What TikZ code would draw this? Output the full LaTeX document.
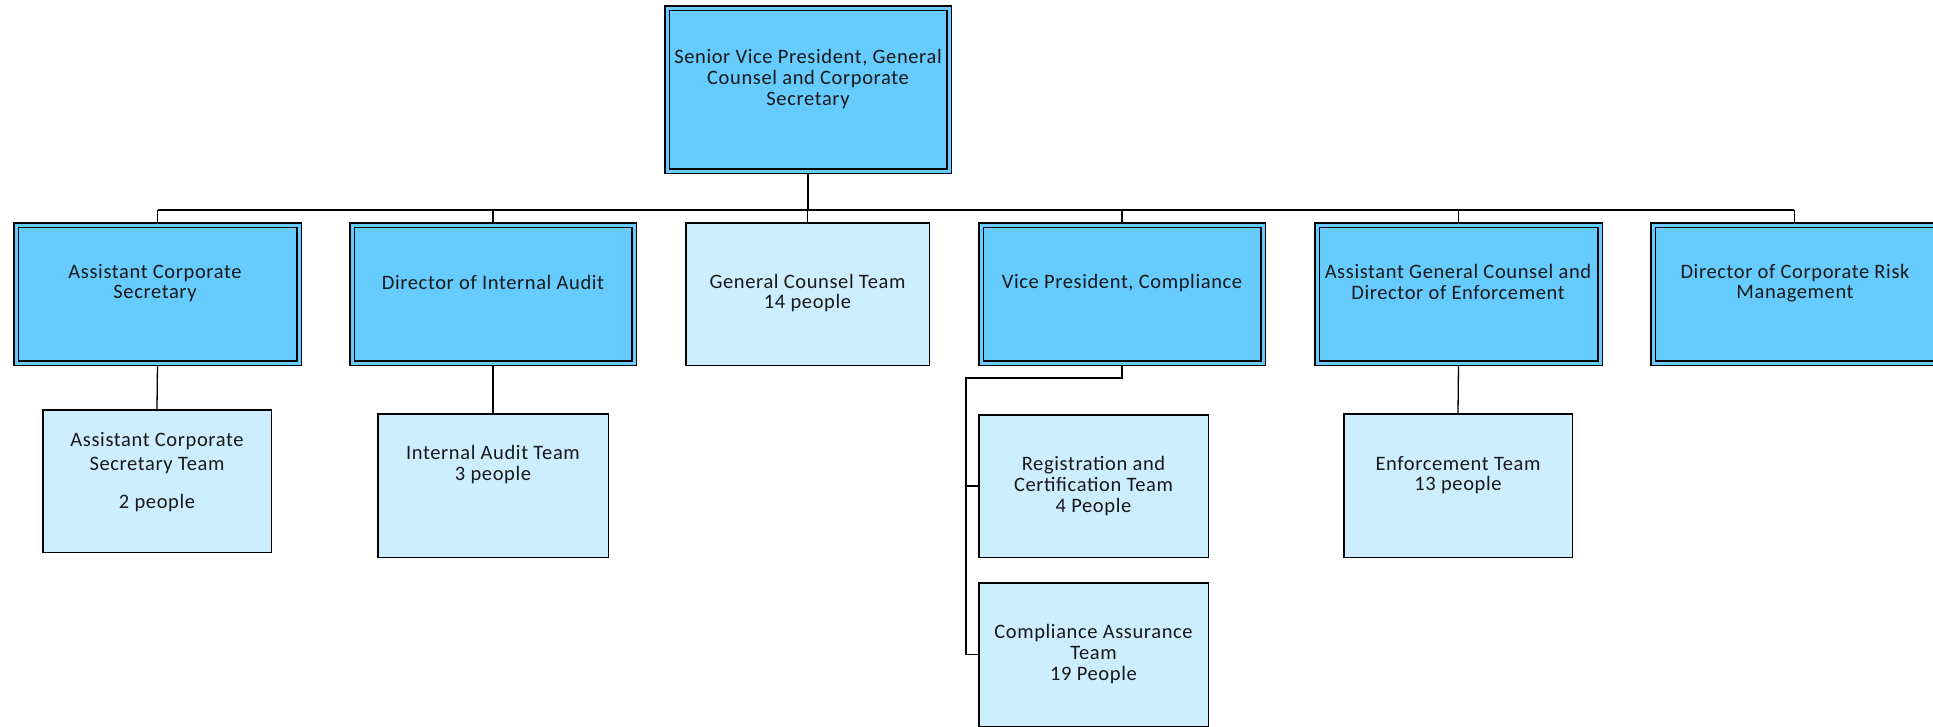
\documentclass[tikz,border=0pt]{standalone}
\usepackage{fontspec}
\setmainfont[LetterSpace=3]{Carlito}
\usetikzlibrary{backgrounds}
\definecolor{darkfill}{HTML}{66CCFF}
\definecolor{lightfill}{HTML}{CCEEFF}
\tikzset{
  mgrbox/.style={draw=black, line width=1.5pt, double=darkfill, double distance=3pt, fill=darkfill, inner sep=0pt},
  teambox/.style={draw=black, line width=1.5pt, fill=lightfill, inner sep=0pt},
  lbl/.style={align=center, inner sep=0pt, font=\fontsize{20.5}{20.7}\selectfont, text=black!90},
  conn/.style={draw=black, line width=1.3pt}
}
\begin{document}
\begin{tikzpicture}[x=1pt,y=-1pt]
\useasboundingbox (0,0) rectangle (1933,726);
\begin{scope}
\clip (0,0) rectangle (1933,726);
% manager boxes
\node[mgrbox, minimum width=282pt, minimum height=163pt] (svp) at (808,89.5) {};
\node[mgrbox, minimum width=283pt, minimum height=138pt] (acs) at (157.5,294) {};
\node[mgrbox, minimum width=282pt, minimum height=138pt] (dia) at (493,294) {};
\node[mgrbox, minimum width=282pt, minimum height=138pt] (vpc) at (1122,294) {};
\node[mgrbox, minimum width=283pt, minimum height=138pt] (agc) at (1458.5,294) {};
\node[mgrbox, minimum width=283pt, minimum height=138pt] (dcrm) at (1794.5,294) {};
% team boxes
\node[teambox, minimum width=243.5pt, minimum height=142.5pt] (gct) at (807.5,294) {};
\node[teambox, minimum width=228.5pt, minimum height=142.5pt] (acst) at (157,481) {};
\node[teambox, minimum width=230.5pt, minimum height=143.5pt] (iat) at (493,485.5) {};
\node[teambox, minimum width=229.5pt, minimum height=142.5pt] (rct) at (1093.5,486) {};
\node[teambox, minimum width=229.5pt, minimum height=143.5pt] (cat) at (1093.5,654.5) {};
\node[teambox, minimum width=228.5pt, minimum height=143.5pt] (et) at (1458,485.5) {};
% labels
\node[lbl] (tsvp) at (808,79) {Senior Vice President, General\\Counsel and Corporate\\Secretary};
\node[lbl] (tacs) at (155,283) {Assistant Corporate\\Secretary};
\node[lbl] (tdia) at (493,282) {Director of Internal Audit};
\node[lbl] (tgct) at (807.5,293) {General Counsel Team\\14 people};
\node[lbl] (tvpc) at (1122,283) {Vice President, Compliance};
\node[lbl] (tagc) at (1458,282) {Assistant General Counsel and\\Director of Enforcement};
\node[lbl] (tdcrm) at (1795,283) {Director of Corporate Risk\\Management};
\node[lbl, font=\fontsize{20.5}{24}\selectfont] (tacst) at (157,472) {Assistant Corporate\\Secretary Team\\[14pt]2 people};
\node[lbl] (tiat) at (493,464.5) {Internal Audit Team\\3 people};
\node[lbl] (trct) at (1093.5,486) {Registration and\\Certification Team\\4 People};
\node[lbl] (tcat) at (1093.5,654) {Compliance Assurance\\Team\\19 People};
\node[lbl] (tet) at (1458,475) {Enforcement Team\\13 people};
% connectors
\coordinate (busL) at (158,210);
\coordinate (busR) at (1794,210);
\coordinate (vpcTurn) at (1122,378);
\coordinate (vpcSpine) at (966,378);
\begin{scope}[on background layer]
\draw[conn] (busL) -- (busR);
\draw[conn] (svp.south) -- (svp.south |- busL);
\draw[conn] (acs.north) -- (acs.north |- busL);
\draw[conn] (dia.north) -- (dia.north |- busL);
\draw[conn] (gct.north) -- (gct.north |- busL);
\draw[conn] (vpc.north) -- (vpc.north |- busL);
\draw[conn] (agc.north) -- (agc.north |- busL);
\draw[conn] (dcrm.north) -- (dcrm.north |- busL);
\draw[conn] (acs.south) -- (acst.north);
\draw[conn] (dia.south) -- (iat.north);
\draw[conn] (agc.south) -- (et.north);
\draw[conn] (vpc.south) -- (vpcTurn) -- (vpcSpine) |- (cat.west);
\draw[conn] (vpcSpine |- rct.west) -- (rct.west);
\end{scope}
\end{scope}
\end{tikzpicture}
\end{document}
